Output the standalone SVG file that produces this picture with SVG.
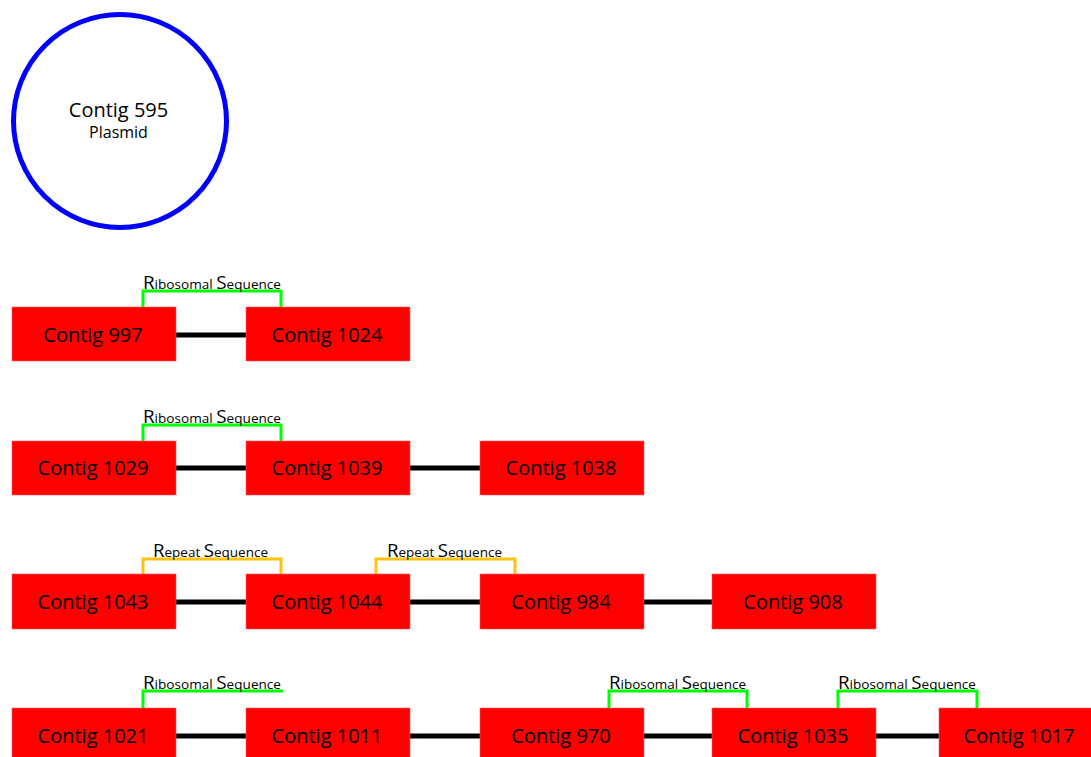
<svg xmlns="http://www.w3.org/2000/svg" width="1091" height="757" viewBox="0 0 1091 757">
<style>
.box{fill:#ff0000;stroke:#ff5a5a;stroke-width:0.6}
.bt{font-family:"Open Sans","Noto Sans",sans-serif;font-size:20px;fill:#000;text-anchor:middle}
.link{stroke:#000;stroke-width:5;fill:none}
.rib{stroke:#00ff00;stroke-width:3;fill:none}
.rep{stroke:#ffc20e;stroke-width:3;fill:none}
.lab{font-family:"Open Sans","Noto Sans",sans-serif;font-size:13px;fill:#000}
.cap{font-size:18px}
</style>
<rect width="1091" height="757" fill="#fff"/>
<g id="plasmid-595">
<circle cx="120" cy="121" r="106.5" fill="none" stroke="#0000ff" stroke-width="5"/>
<text x="118.5" y="117" font-family="'Open Sans','Noto Sans',sans-serif" font-size="20" text-anchor="middle">Contig 595</text>
<text x="118.5" y="138" font-family="'Open Sans','Noto Sans',sans-serif" font-size="16" text-anchor="middle">Plasmid</text>
</g>
<g id="connectors">
<line class="link" x1="176" y1="335" x2="246" y2="335"/>
<line class="link" x1="176" y1="468" x2="246" y2="468"/>
<line class="link" x1="410" y1="468" x2="480" y2="468"/>
<line class="link" x1="176" y1="602" x2="246" y2="602"/>
<line class="link" x1="410" y1="602" x2="480" y2="602"/>
<line class="link" x1="644" y1="602" x2="712" y2="602"/>
<line class="link" x1="176" y1="736" x2="246" y2="736"/>
<line class="link" x1="410" y1="736" x2="480" y2="736"/>
<line class="link" x1="644" y1="736" x2="712" y2="736"/>
<line class="link" x1="876" y1="736" x2="939" y2="736"/>
</g>
<g id="annotations">
<polyline class="rib" points="143,307 143,291 281,291 281,307"/>
<text class="lab" x="143" y="289" textLength="138" lengthAdjust="spacingAndGlyphs"><tspan class="cap">R</tspan>ibosomal <tspan class="cap">S</tspan>equence</text>
<polyline class="rib" points="143,441 143,425 281,425 281,441"/>
<text class="lab" x="143" y="423" textLength="138" lengthAdjust="spacingAndGlyphs"><tspan class="cap">R</tspan>ibosomal <tspan class="cap">S</tspan>equence</text>
<polyline class="rep" points="143,574 143,559 281,559 281,574"/>
<text class="lab" x="153" y="557" textLength="115" lengthAdjust="spacingAndGlyphs"><tspan class="cap">R</tspan>epeat <tspan class="cap">S</tspan>equence</text>
<polyline class="rep" points="376,574 376,559 515,559 515,574"/>
<text class="lab" x="387" y="557" textLength="115" lengthAdjust="spacingAndGlyphs"><tspan class="cap">R</tspan>epeat <tspan class="cap">S</tspan>equence</text>
<polyline class="rib" points="143,708 143,691 283,691"/>
<text class="lab" x="143" y="689" textLength="138" lengthAdjust="spacingAndGlyphs"><tspan class="cap">R</tspan>ibosomal <tspan class="cap">S</tspan>equence</text>
<polyline class="rib" points="609,708 609,691 747,691 747,708"/>
<text class="lab" x="609" y="689" textLength="137" lengthAdjust="spacingAndGlyphs"><tspan class="cap">R</tspan>ibosomal <tspan class="cap">S</tspan>equence</text>
<polyline class="rib" points="838,708 838,691 977,691 977,708"/>
<text class="lab" x="838" y="689" textLength="138" lengthAdjust="spacingAndGlyphs"><tspan class="cap">R</tspan>ibosomal <tspan class="cap">S</tspan>equence</text>
</g>
<g id="contig-997"><rect class="box" x="12" y="307" width="164" height="54"/><text class="bt" x="93" y="341.5">Contig 997</text></g>
<g id="contig-1024"><rect class="box" x="246" y="307" width="164" height="54"/><text class="bt" x="327" y="341.5">Contig 1024</text></g>
<g id="contig-1029"><rect class="box" x="12" y="441" width="164" height="54"/><text class="bt" x="93" y="475">Contig 1029</text></g>
<g id="contig-1039"><rect class="box" x="246" y="441" width="164" height="54"/><text class="bt" x="327" y="475">Contig 1039</text></g>
<g id="contig-1038"><rect class="box" x="480" y="441" width="164" height="54"/><text class="bt" x="561" y="475">Contig 1038</text></g>
<g id="contig-1043"><rect class="box" x="12" y="574" width="164" height="55"/><text class="bt" x="93" y="609">Contig 1043</text></g>
<g id="contig-1044"><rect class="box" x="246" y="574" width="164" height="55"/><text class="bt" x="327" y="609">Contig 1044</text></g>
<g id="contig-984"><rect class="box" x="480" y="574" width="164" height="55"/><text class="bt" x="561" y="609">Contig 984</text></g>
<g id="contig-908"><rect class="box" x="712" y="574" width="164" height="55"/><text class="bt" x="793" y="609">Contig 908</text></g>
<g id="contig-1021"><rect class="box" x="12" y="708" width="164" height="54"/><text class="bt" x="93" y="742.5">Contig 1021</text></g>
<g id="contig-1011"><rect class="box" x="246" y="708" width="164" height="54"/><text class="bt" x="327" y="742.5">Contig 1011</text></g>
<g id="contig-970"><rect class="box" x="480" y="708" width="164" height="54"/><text class="bt" x="561" y="742.5">Contig 970</text></g>
<g id="contig-1035"><rect class="box" x="712" y="708" width="164" height="54"/><text class="bt" x="793" y="742.5">Contig 1035</text></g>
<g id="contig-1017"><rect class="box" x="939" y="708" width="164" height="54"/><text class="bt" x="1019" y="742.5">Contig 1017</text></g>
</svg>
